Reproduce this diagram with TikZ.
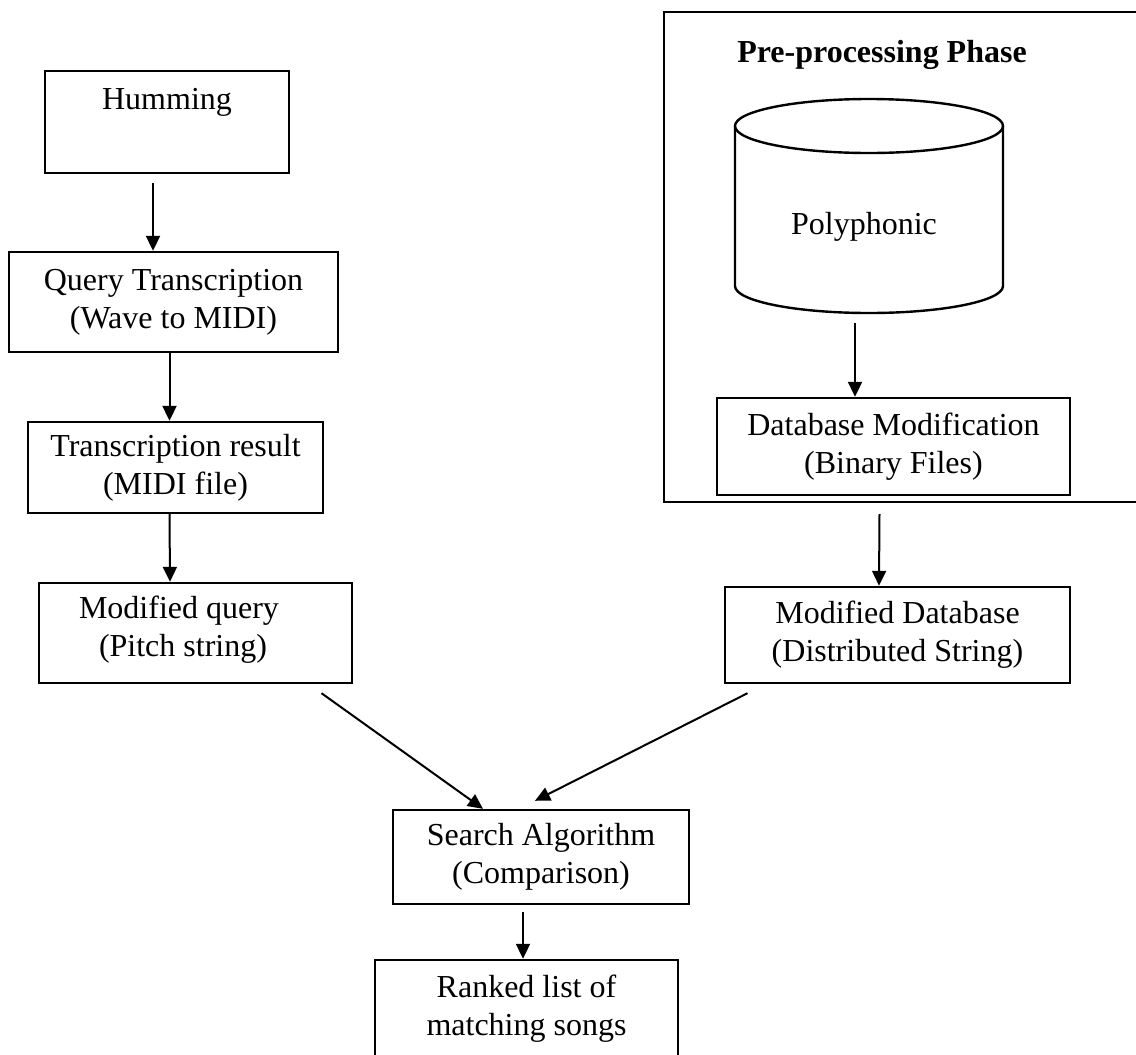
\documentclass[tikz,border=0pt]{standalone}
\usepackage{fontspec}
\setmainfont{Liberation Serif}
\usetikzlibrary{arrows.meta}

\begin{document}
\begin{tikzpicture}[x=0.5pt, y=-0.5pt,
		txt/.style={align=center, inner sep=0pt, font=\fontsize{16}{19}\selectfont},
		box/.style={txt, draw, line width=1.2pt},
		arr/.style={line width=1pt, -{Triangle[length=7.5pt, width=7pt]}}]
		\useasboundingbox (0,0) rectangle (1136,1055);
		\clip (0,0) rectangle (1136,1055);
		% query side
		\node[box, minimum width=122pt, minimum height=51pt] (hum) at (167,122) {};
		\node[txt] (humtxt) at (167,102) {Humming};
		\node[box, minimum width=164.5pt, minimum height=50pt] (qt) at (173.5,302) {Query Transcription\\(Wave to MIDI)};
		\node[box, minimum width=147.5pt, minimum height=45.5pt] (tr) at (175.5,467.5) {Transcription result\\(MIDI file)};
		\node[box, minimum width=156.5pt, minimum height=50pt] (mq) at (195.5,633) {};
		\node[txt] (mqtxt) at (179,630) {Modified query\\\ (Pitch string)};
		% pre-processing phase
		\draw[line width=1.2pt] (1160,12) -- (664,12) -- (664,502) -- (1160,502);
		\node[txt, font=\fontsize{16}{19}\selectfont\bfseries] (phase) at (882,55) {Pre-processing Phase};
		\draw[line width=1.2pt] (735,126) -- (735,286) arc[start angle=180, end angle=0, x radius=134, y radius=27] -- (1003,126);
		\draw[line width=1.2pt] (869,126) ellipse[x radius=134, y radius=27];
		\node[txt] (pol) at (864,227) {Polyphonic};
		\coordinate (polbot) at (855,313);
		\node[box, minimum width=176.5pt, minimum height=48.5pt] (dm) at (893.5,446.5) {Database Modification\\(Binary Files)};
		\node[box, minimum width=172.5pt, minimum height=48pt] (md) at (897.5,635) {Modified Database\\(Distributed String)};
		% search
		\node[box, minimum width=148pt, minimum height=47pt] (sa) at (541,857) {Search Algorithm\\(Comparison)};
		\node[box, minimum width=151.5pt, minimum height=49pt] (rl) at (526.5,1009) {Ranked list of\\matching songs};
		% arrows
		\draw[arr] ([xshift=-7pt, yshift=-4.5pt]hum.south) -- ([xshift=-10.25pt]qt.north);
		\draw[arr] ([xshift=-2pt]qt.south) -- ([xshift=-3pt]tr.north);
		\draw[arr] ([xshift=-3pt]tr.south) -- ([xshift=-12.75pt]mq.north);
		\draw[arr] ([yshift=-5pt]polbot) -- ([xshift=-19.25pt]dm.north);
		\draw[arr] ([xshift=-7pt, yshift=-9pt]dm.south) -- ([xshift=-9.25pt]md.north);
		\draw[arr] ([xshift=63pt, yshift=-4.5pt]mq.south) -- ([xshift=-29pt]sa.north);
		\draw[arr] ([xshift=-75pt, yshift=-4.5pt]md.south) -- ([xshift=-3pt, yshift=4pt]sa.north);
		\draw[arr] ([xshift=-9pt, yshift=-3.5pt]sa.south) -- ([xshift=-1.75pt]rl.north);
	\end{tikzpicture}
\end{document}
